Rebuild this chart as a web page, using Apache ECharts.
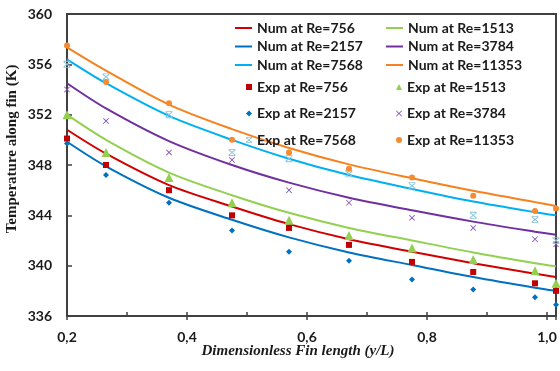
<!DOCTYPE html>
<html>
<head>
<meta charset="utf-8">
<script src="https://cdn.jsdelivr.net/npm/echarts@6/dist/echarts.min.js"></script>
<style>html,body{margin:0;padding:0;background:#fff}#c{width:560px;height:371px}</style>
</head>
<body>
<div id="c"></div>
<script>
var xPos = [0.2, 0.265, 0.37, 0.475, 0.57, 0.67, 0.775, 0.877, 0.98, 1.015];
var yTicks = [336, 340, 344, 348, 352, 356, 360];
var xTickLabels = ['0,2', '0,4', '0,6', '0,8', '1,0'];

var num756   = [350.8, 348.9, 346.4, 344.7, 343.3, 342.1, 341.1, 340.2, 339.35, 339.1];
var num1513  = [352.0, 350.0, 347.4, 345.6, 344.2, 343.0, 342.0, 341.05, 340.2, 339.95];
var num2157  = [349.85, 347.9, 345.4, 343.65, 342.25, 341.05, 340.05, 339.1, 338.25, 338.0];
var num3784  = [354.5, 352.5, 349.9, 348.0, 346.6, 345.4, 344.4, 343.5, 342.7, 342.45];
var num7568  = [356.4, 354.5, 351.9, 350.0, 348.5, 347.2, 346.1, 345.1, 344.25, 344.0];
var num11353 = [357.35, 355.5, 352.8, 350.85, 349.35, 348.05, 346.95, 345.95, 345.05, 344.75];

var exp756   = [350.1, 348.0, 346.0, 344.0, 343.0, 341.65, 340.3, 339.5, 338.6, 338.0];
var exp1513  = [352.0, 349.0, 347.0, 345.0, 343.6, 342.4, 341.4, 340.5, 339.6, 338.6];
var exp2157  = [349.7, 347.2, 345.0, 342.8, 341.1, 340.4, 338.9, 338.1, 337.5, 336.9];
var exp3784  = [354.0, 351.5, 349.0, 348.4, 346.0, 345.0, 343.8, 343.0, 342.1, 341.7];
var exp7568  = [356.0, 355.0, 352.0, 349.0, 348.5, 347.3, 346.35, 344.0, 343.67, 342.0];
var exp11353 = [357.5, 354.6, 352.9, 350.0, 349.0, 347.7, 347.0, 345.55, 344.35, 344.55];

function pairs(v) { return xPos.map(function (x, i) { return [x, v[i]]; }); }

var FONT = 'Lato';
var xMark = 'path://M1,0L5,4L9,0L10,1L6,5L10,9L9,10L5,6L1,10L0,9L4,5L0,1Z';
var hourMark = 'path://M1,1L5,4L9,1L10,2L6,5L10,8L9,9L5,6L1,9L0,8L4,5L0,2Z M0,0L10,0L10,1.2L0,1.2Z M0,8.8L10,8.8L10,10L0,10Z';
var lineIcon = 'path://M0,0L17,0L17,2L0,2Z';

function lineS(name, data, color) {
  return { name: name, type: 'line', data: pairs(data), smooth: 0.3, symbol: 'none',
    lineStyle: { color: color, width: 2 }, itemStyle: { color: color }, z: 2 };
}
function scatS(name, data, color, symbol, size) {
  return { name: name, type: 'scatter', data: pairs(data), symbol: symbol, symbolSize: size,
    itemStyle: { color: color, opacity: 1 }, clip: false, z: 3 };
}

var legendText = { fontFamily: FONT, fontWeight: 'bold', fontSize: 14, color: '#1a1a1a' };
function leg(left, top, data, w, h, gap, icon) {
  return { orient: 'vertical', left: left, top: top, itemWidth: w, itemHeight: h, itemGap: gap,
    padding: 0, data: data.map(function (n) { return icon ? { name: n, icon: icon } : { name: n }; }),
    textStyle: legendText, selectedMode: false };
}

var chart = echarts.init(document.getElementById('c'), null, { renderer: 'canvas' });
chart.setOption({
  animation: false,
  backgroundColor: '#ffffff',
  grid: { left: 67, right: 4, top: 14, bottom: 55, show: true, borderColor: '#404040', borderWidth: 2, containLabel: false },
  legend: [
    leg(235, 21, ['Num at Re=756', 'Num at Re=2157', 'Num at Re=7568'], 17, 14, 4.5, lineIcon),
    leg(386, 21, ['Num at Re=1513', 'Num at Re=3784', 'Num at Re=11353'], 17, 14, 4.5, lineIcon),
    leg(246, 80, ['Exp at Re=756', 'Exp at Re=2157', 'Exp at Re=7568'], 6, 6, 12.5),
    leg(396, 80, ['Exp at Re=1513', 'Exp at Re=3784', 'Exp at Re=11353'], 6, 6, 12.5)
  ],
  xAxis: [{
    type: 'value', min: 0.2, max: 1.015, interval: 0.2,
    axisLine: { show: true, lineStyle: { color: '#404040', width: 2 } },
    axisTick: { show: true, inside: false, length: 4, lineStyle: { color: '#404040', width: 1.5 } },
    minorTick: { show: false },
    splitLine: { show: false },
    axisLabel: {
      margin: 14, fontFamily: FONT, fontWeight: 'bold', fontSize: 14, color: '#1a1a1a',
      formatter: function (v) {
        var k = Math.round((v - 0.2) / 0.2);
        if (Math.abs(v - (0.2 + k * 0.2)) < 1e-6 && k >= 0 && k < xTickLabels.length) return xTickLabels[k];
        return '';
      }
    }
  }, {
    type: 'value', min: 0.2, max: 1.015, interval: 0.2, position: 'bottom',
    axisLine: { show: false },
    axisTick: { show: true, inside: true, length: 4, lineStyle: { color: '#404040', width: 1.5 } },
    minorTick: { show: true, splitNumber: 2, length: 4, lineStyle: { color: '#404040', width: 1.5 } },
    splitLine: { show: false }, axisLabel: { show: false }
  }],
  yAxis: {
    type: 'value', min: yTicks[0], max: yTicks[yTicks.length - 1], interval: 4,
    axisLine: { show: true, lineStyle: { color: '#404040', width: 2 } },
    axisTick: { show: true, inside: true, length: 5, lineStyle: { color: '#404040', width: 1.5 } },
    splitLine: { show: false },
    axisLabel: { margin: 15, fontFamily: FONT, fontWeight: 'bold', fontSize: 14, color: '#1a1a1a' }
  },
  graphic: [
    { type: 'text', x: 12, y: 149, rotation: Math.PI / 2,
      style: { text: 'Temperature along fin (K)', fontFamily: 'Liberation Serif', fontWeight: 'bold', fontSize: 15,
        fill: '#1a1a1a', align: 'center', verticalAlign: 'middle' } },
    { type: 'text', x: 298, y: 351,
      style: { text: 'Dimensionless Fin length (y/L)', fontFamily: 'Liberation Serif', fontWeight: 'bold', fontStyle: 'italic', fontSize: 15,
        fill: '#1a1a1a', align: 'center', verticalAlign: 'middle' } }
  ],
  series: [
    lineS('Num at Re=756', num756, '#D00000'),
    lineS('Num at Re=1513', num1513, '#92D050'),
    lineS('Num at Re=2157', num2157, '#0070C0'),
    lineS('Num at Re=3784', num3784, '#7030A0'),
    lineS('Num at Re=7568', num7568, '#00B0F0'),
    lineS('Num at Re=11353', num11353, '#F5821F'),
    scatS('Exp at Re=756', exp756, '#C00000', 'rect', 6),
    scatS('Exp at Re=1513', exp1513, '#92D050', 'triangle', 9),
    scatS('Exp at Re=2157', exp2157, '#0070C0', 'diamond', 6),
    scatS('Exp at Re=3784', exp3784, '#8050B8', xMark, 6),
    scatS('Exp at Re=7568', exp7568, '#8CC4DC', hourMark, 7),
    scatS('Exp at Re=11353', exp11353, '#F58A30', 'circle', 6)
  ]
});
</script>
</body>
</html>
